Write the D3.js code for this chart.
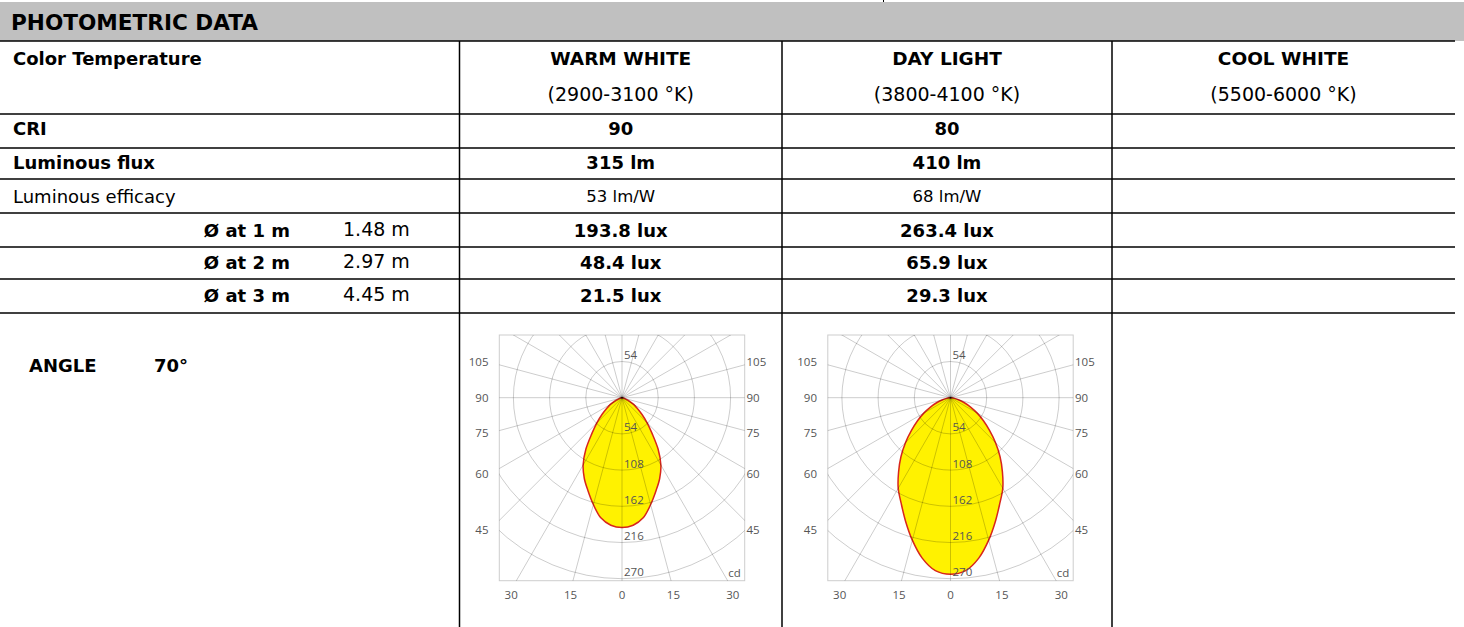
<!DOCTYPE html>
<html><head><meta charset="utf-8">
<script src="https://cdn.jsdelivr.net/npm/d3@7/dist/d3.min.js"></script>
<style>
html,body{margin:0;padding:0;background:#fff;}
svg{display:block;}
</style></head>
<body>
<script>
// ---------- DATA ----------
const title = "PHOTOMETRIC DATA";
const columns = ["WARM WHITE", "DAY LIGHT", "COOL WHITE"];
const tempRanges = ["(2900-3100 °K)", "(3800-4100 °K)", "(5500-6000 °K)"];
const rowLabels = ["Color Temperature", "CRI", "Luminous flux", "Luminous efficacy"];
const criValues = ["90", "80", ""];
const fluxValues = ["315 lm", "410 lm", ""];
const efficacyValues = ["53 lm/W", "68 lm/W", ""];
const distLabels = ["Ø at 1 m", "Ø at 2 m", "Ø at 3 m"];
const diameters = ["1.48 m", "2.97 m", "4.45 m"];
const luxWarm = ["193.8 lux", "48.4 lux", "21.5 lux"];
const luxDay = ["263.4 lux", "65.9 lux", "29.3 lux"];
const luxCool = ["", "", ""];
const beamLabel = "ANGLE";
const beamValue = "70°";

// polar (candela) data: intensity at angle from nadir
const polarAngles = [0, 5, 10, 15, 20, 25, 30, 35, 40, 45, 50, 55, 60, 65, 70, 75, 80, 85, 90];
const warmCd = [193.8, 191, 182, 165, 148, 133, 116, 94, 70, 53, 39, 28, 20, 12, 6, 3, 1, 0.4, 0];
const dayCd  = [263.4, 259, 243, 220, 196, 174, 156, 135, 115, 95, 76, 60, 46, 33, 22, 13, 6, 2, 0];
const ringValues = [54, 108, 162, 216, 270];
const sideLabels = [105, 90, 75, 60, 45];
const bottomAngles = [-30, -15, 0, 15, 30];
const bottomLabels = ["30", "15", "0", "15", "30"];
const unitLabel = "cd";

// ---------- LAYOUT ----------
const W = 1464, H = 627;
const colX = [0, 459.5, 782, 1112, 1455];
const rowY = [41, 114, 148, 179, 213, 247, 279, 313];
const FONT = "'DejaVu Sans', Verdana, sans-serif";

const svg = d3.select("body").append("svg").attr("width", W).attr("height", H);

// header band
svg.append("rect").attr("x", 0).attr("y", 2).attr("width", W).attr("height", rowY[0] - 2).attr("fill", "#c0c0c0");
svg.append("line").attr("x1", 883.5).attr("x2", 883.5).attr("y1", 0).attr("y2", 2).attr("stroke", "#000").attr("stroke-width", 1);
svg.append("text").attr("x", 11).attr("y", 30).attr("font-family", FONT).attr("font-weight", "bold")
  .attr("font-size", 21.6).attr("fill", "#000").text(title);

// table lines
svg.append("g").selectAll("line").data(rowY).join("line")
  .attr("x1", 0).attr("x2", colX[4]).attr("y1", d => d).attr("y2", d => d)
  .attr("stroke", "#000").attr("stroke-width", 1.5);
svg.append("g").selectAll("line").data(colX.slice(1, 4)).join("line")
  .attr("x1", d => d).attr("x2", d => d).attr("y1", rowY[0]).attr("y2", H)
  .attr("stroke", "#000").attr("stroke-width", 1.5);

const colCenter = i => (colX[i + 1] + colX[i + 2]) / 2;
function txt(x, y, s, opt = {}) {
  return svg.append("text").attr("x", x).attr("y", y).attr("font-family", FONT)
    .attr("font-size", opt.size || 18).attr("font-weight", opt.bold ? "bold" : "normal")
    .attr("text-anchor", opt.anchor || "start").attr("fill", "#000").text(s);
}

// row labels
txt(13, 64.5, rowLabels[0], {bold: true});
txt(13, 135, rowLabels[1], {bold: true});
txt(13, 169, rowLabels[2], {bold: true});
txt(13, 203, rowLabels[3]);
const distBase = [236.5, 268.5, 302];
distLabels.forEach((d, i) => {
  txt(290, distBase[i], d, {bold: true, anchor: "end"});
  txt(343, distBase[i] - 1, diameters[i], {size: 19});
});

// column values
columns.forEach((c, i) => {
  const cx = colCenter(i);
  txt(cx, 65, c, {bold: true, anchor: "middle", size: 18.5});
  txt(cx, 100.5, tempRanges[i], {anchor: "middle", size: 19});
  txt(cx, 135, criValues[i], {bold: true, anchor: "middle"});
  txt(cx, 169, fluxValues[i], {bold: true, anchor: "middle"});
  txt(cx, 202, efficacyValues[i], {anchor: "middle", size: 16.5});
  const lux = [luxWarm, luxDay, luxCool][i];
  lux.forEach((v, j) => txt(cx, distBase[j], v, {bold: true, anchor: "middle"}));
});

txt(29, 371.5, beamLabel, {bold: true});
txt(154, 371.5, beamValue, {bold: true});

// ---------- POLAR CHARTS ----------
const r = d3.scaleLinear().domain([0, 270]).range([0, 181]);
const PF = "'Open Sans', 'Noto Sans', sans-serif";
const cy = 397.7;
const boxHalfW = 122.7, boxTop = 335, boxBottom = 580.7;

function polar(cx, cdValues, id) {
  const g = svg.append("g");
  const defs = g.append("defs");
  defs.append("clipPath").attr("id", id).append("rect")
    .attr("x", cx - boxHalfW).attr("y", boxTop).attr("width", 2 * boxHalfW).attr("height", boxBottom - boxTop);

  // curve: left side (90 -> 0), right side (0 -> 90)
  const pts = [];
  for (let k = polarAngles.length - 1; k > 0; k--) pts.push({a: Math.PI + polarAngles[k] * Math.PI / 180, v: cdValues[k]});
  for (let k = 0; k < polarAngles.length; k++) pts.push({a: Math.PI - polarAngles[k] * Math.PI / 180, v: cdValues[k]});
  const line = d3.lineRadial().angle(d => d.a).radius(d => r(d.v)).curve(d3.curveCatmullRom.alpha(0.5));
  const inner = g.append("g").attr("transform", `translate(${cx},${cy})`);
  inner.append("path").attr("d", line(pts)).attr("fill", "#fff200").attr("stroke", "none");

  const grid = g.append("g").attr("clip-path", `url(#${id})`);
  const spokes = d3.range(0, 360, 15);
  grid.selectAll("line").data(spokes).join("line")
    .attr("x1", cx).attr("y1", cy)
    .attr("x2", d => cx + 400 * Math.sin(d * Math.PI / 180))
    .attr("y2", d => cy + 400 * Math.cos(d * Math.PI / 180))
    .attr("stroke", "#000").attr("stroke-opacity", 0.2).attr("stroke-width", 1);
  grid.selectAll("circle").data(ringValues).join("circle")
    .attr("cx", cx).attr("cy", cy).attr("r", d => r(d))
    .attr("fill", "none").attr("stroke", "#000").attr("stroke-opacity", 0.2).attr("stroke-width", 1);
  g.append("rect").attr("x", cx - boxHalfW).attr("y", boxTop).attr("width", 2 * boxHalfW).attr("height", boxBottom - boxTop)
    .attr("fill", "none").attr("stroke", "#000").attr("stroke-opacity", 0.2).attr("stroke-width", 1);

  inner.append("path").attr("d", line(pts)).attr("fill", "none").attr("stroke", "#d8261c").attr("stroke-width", 1.5);

  // ring labels
  const lab = (x, y, s, anchor) => g.append("text").attr("x", x).attr("y", y).attr("font-family", PF)
    .attr("font-size", 11.5).attr("fill", "#555").attr("text-anchor", anchor || "start").text(s);
  ringValues.forEach(v => lab(cx + 2, cy + r(v) - 2.5, v));
  lab(cx + 2, cy - r(ringValues[0]) - 2.5, ringValues[0]);

  // side angle labels
  const L = 132.5;
  sideLabels.forEach(a => {
    const y = cy + L * Math.tan((90 - a) * Math.PI / 180) + 4;
    lab(cx - 133.5, y, a, "end");
    lab(cx + 124.5, y, a, "start");
  });
  bottomAngles.forEach((a, i) => {
    lab(cx + 192 * Math.tan(a * Math.PI / 180), 599, bottomLabels[i], "middle");
  });
  lab(cx + boxHalfW - 4, 577, unitLabel, "end");
}

polar(622, warmCd, "clipWarm");
polar(950.5, dayCd, "clipDay");
</script>
</body></html>
